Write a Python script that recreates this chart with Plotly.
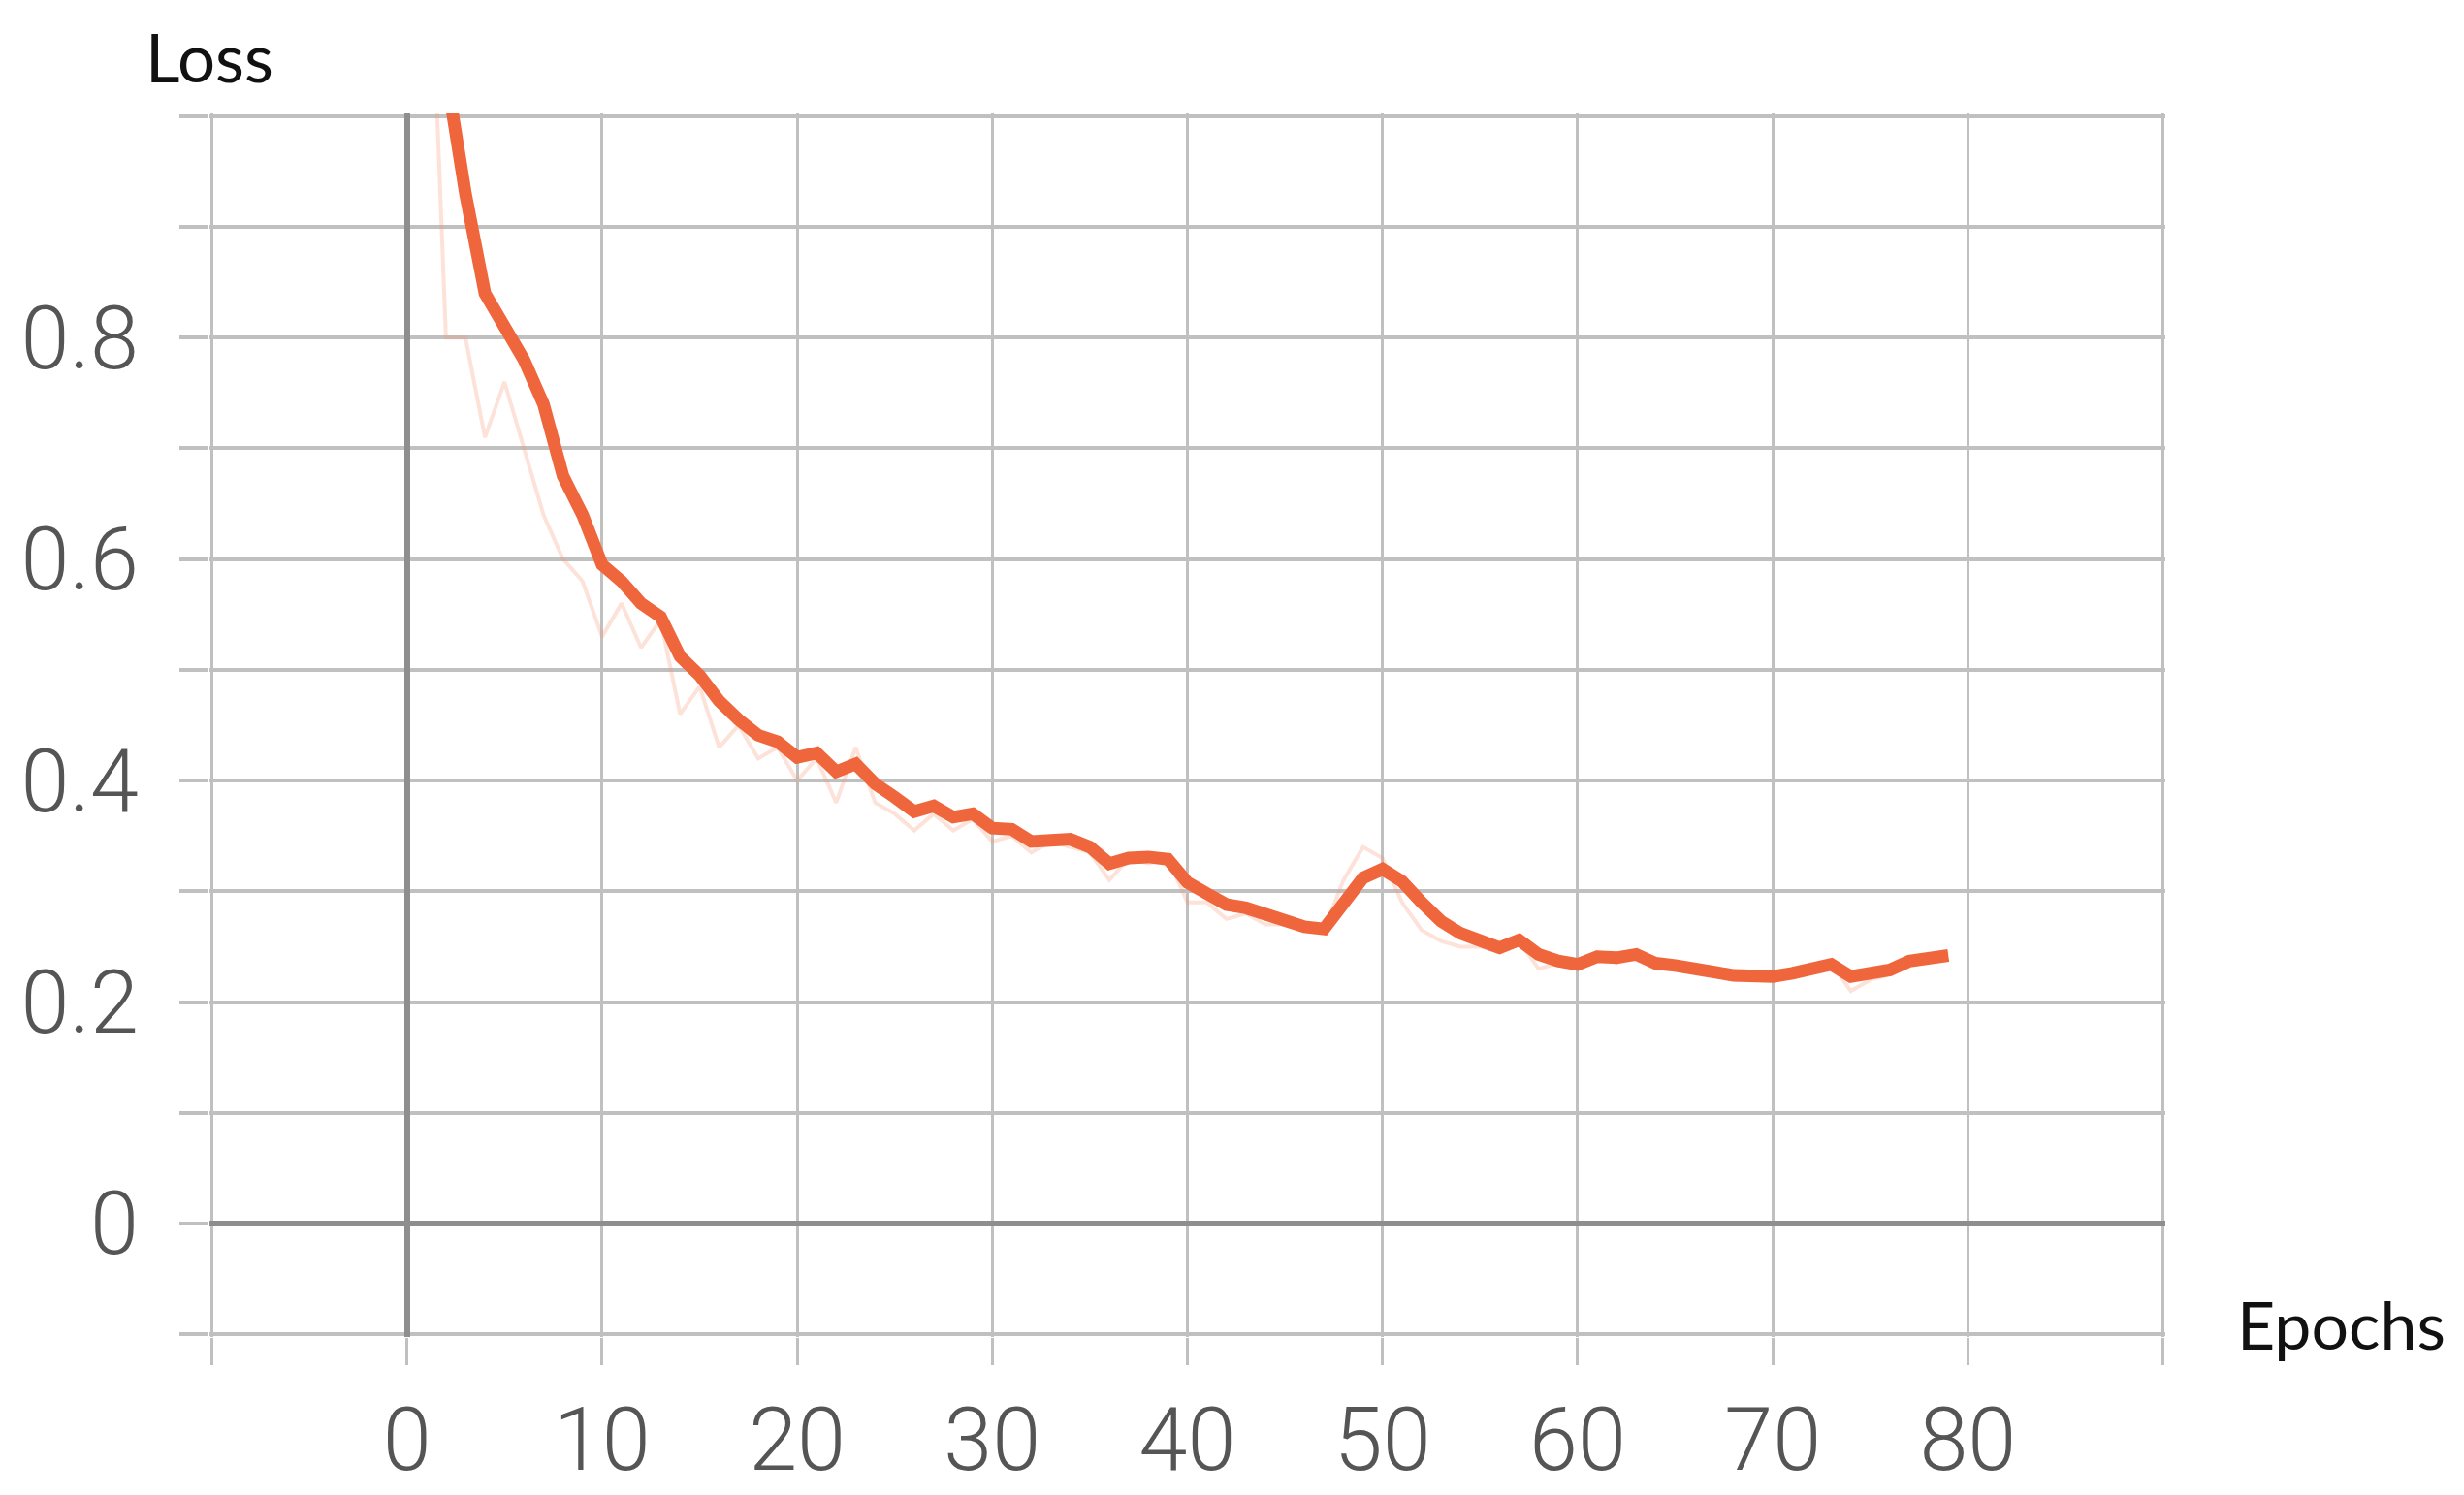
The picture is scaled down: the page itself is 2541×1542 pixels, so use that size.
import plotly.graph_objects as go

# epochs and loss values
epochs = list(range(1, 80))

loss_smoothed = [
    1.20, 1.04, 0.93, 0.84, 0.81, 0.78, 0.74, 0.675, 0.64, 0.595,
    0.58, 0.56, 0.548, 0.512, 0.495, 0.472, 0.455, 0.441, 0.435, 0.421,
    0.425, 0.408, 0.415, 0.397, 0.385, 0.372, 0.377, 0.367, 0.370, 0.357,
    0.356, 0.345, 0.346, 0.347, 0.340, 0.325, 0.330, 0.331, 0.329, 0.308,
    0.298, 0.288, 0.285, 0.279, 0.274, 0.268, 0.266, 0.290, 0.312, 0.320,
    0.309, 0.290, 0.273, 0.262, 0.254, 0.249, 0.256, 0.243, 0.237, 0.234,
    0.241, 0.240, 0.243, 0.235, 0.233, 0.231, 0.227, 0.224, 0.223, 0.223,
    0.226, 0.231, 0.234, 0.223, 0.225, 0.229, 0.237, 0.240, 0.242,
]

loss_raw = [
    1.25, 0.80, 0.80, 0.71, 0.76, 0.70, 0.64, 0.60, 0.58, 0.53,
    0.56, 0.52, 0.545, 0.46, 0.485, 0.43, 0.45, 0.42, 0.43, 0.40,
    0.42, 0.38, 0.43, 0.38, 0.37, 0.355, 0.37, 0.355, 0.365, 0.345,
    0.35, 0.335, 0.345, 0.34, 0.335, 0.31, 0.33, 0.325, 0.33, 0.29,
    0.29, 0.275, 0.28, 0.27, 0.27, 0.265, 0.265, 0.31, 0.34, 0.33,
    0.29, 0.265, 0.255, 0.25, 0.25, 0.245, 0.255, 0.23, 0.235, 0.23,
    0.245, 0.235, 0.245, 0.23, 0.23, 0.228, 0.225, 0.22, 0.222, 0.222,
    0.228, 0.232, 0.235, 0.21, 0.22, 0.225, 0.24, 0.24, 0.245,
]

x_ticks = list(range(-10, 91, 10))
x_ticktext = ['' if v in (-10, 90) else str(v) for v in x_ticks]
y_ticks = [round(-0.1 + 0.1 * i, 1) for i in range(12)]
y_labels = {0.0: '0', 0.2: '0.2', 0.4: '0.4', 0.6: '0.6', 0.8: '0.8'}
y_ticktext = [y_labels.get(v, '') for v in y_ticks]

GRID = '#c0c0c0'
ZERO = '#8e8e8e'

fig = go.Figure()
fig.add_trace(go.Scatter(
    x=epochs, y=loss_raw, mode='lines',
    line=dict(color='rgba(246,150,120,0.28)', width=4),
    hoverinfo='skip', showlegend=False
))
fig.add_trace(go.Scatter(
    x=epochs, y=loss_smoothed, mode='lines',
    line=dict(color='#f0663c', width=13),
    showlegend=False
))

tick_font = dict(family='Roboto', size=90, color='#555555', weight=300)

# ranges are padded a hair so the edge grid lines are still drawn
fig.update_xaxes(
    range=[-10.12, 90.12], tickvals=x_ticks, ticktext=x_ticktext,
    showgrid=True, gridcolor=GRID, gridwidth=3,
    zeroline=True, zerolinecolor=ZERO, zerolinewidth=6,
    ticks='outside', ticklen=28, tickwidth=3, tickcolor=GRID,
    tickfont=tick_font, showline=False
)
fig.update_yaxes(
    range=[-0.1025, 1.0025], tickvals=y_ticks, ticktext=y_ticktext,
    showgrid=True, gridcolor=GRID, gridwidth=4,
    zeroline=True, zerolinecolor=ZERO, zerolinewidth=6,
    ticks='outside', ticklen=30, tickwidth=4, tickcolor=GRID,
    tickfont=tick_font, showline=False, ticklabelstandoff=24
)

fig.update_layout(
    width=2541, height=1542,
    margin=dict(l=208, r=316, t=109, b=157),
    paper_bgcolor='white', plot_bgcolor='white',
    annotations=[
        dict(text='Loss', xref='paper', yref='paper', x=0.0, y=1.0465,
             showarrow=False, xanchor='center', yanchor='middle',
             font=dict(family='Lato', size=69, color='#111111')),
        dict(text='Epochs', xref='paper', yref='paper', x=1.09, y=0.011,
             showarrow=False, xanchor='center', yanchor='middle',
             font=dict(family='Lato', size=68, color='#111111')),
    ]
)

fig.write_html('out.html')
